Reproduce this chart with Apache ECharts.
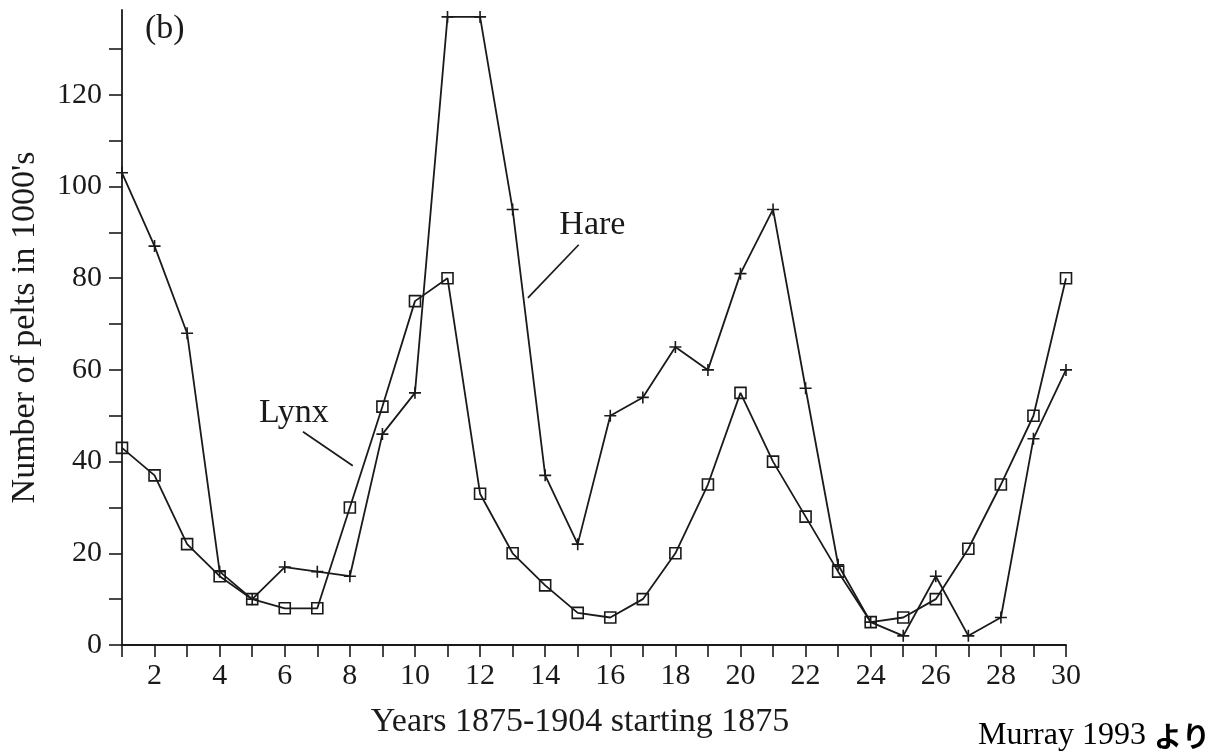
<!DOCTYPE html>
<html>
<head>
<meta charset="utf-8">
<script src="https://cdn.jsdelivr.net/npm/echarts@6/dist/echarts.min.js"></script>
<style>
html,body{margin:0;padding:0;background:#fff;}
#c{width:1218px;height:755px;}
</style>
</head>
<body>
<div id="c"></div>
<script>
const years = [1,2,3,4,5,6,7,8,9,10,11,12,13,14,15,16,17,18,19,20,21,22,23,24,25,26,27,28,29,30];
const hare = [103,87,68,16,10,17,16,15,46,55,137,137,95,37,22,50,54,65,60,81,95,56,17.5,5,2,15,2,6,45,60];
const lynx = [43,37,22,15,10,8,8,30,52,75,80,33,20,13,7,6,10,20,35,55,40,28,16,5,6,10,21,35,50,80];
const yTicks = [0,10,20,30,40,50,60,70,80,90,100,110,120,130];
const yLabels = [0,20,40,60,80,100,120];
const xLabels = [2,4,6,8,10,12,14,16,18,20,22,24,26,28,30];
const harePointer = [[15.03,87.3],[13.47,75.7]];
const lynxPointer = [[6.56,46.5],[8.09,39.1]];

const ink = '#1a1a1a';
const serif = '"Liberation Serif","DejaVu Serif",serif';
const chart = echarts.init(document.getElementById('c'), null, {renderer:'canvas'});

chart.setOption({
  backgroundColor:'#ffffff',
  animation:false,
  grid:{left:117,right:152,top:10,bottom:110,containLabel:false},
  xAxis:{
    type:'value',min:1,max:30,interval:1,
    axisLine:{show:true,lineStyle:{color:ink,width:1.8}},
    axisTick:{show:true,length:12,lineStyle:{color:ink,width:1.6}},
    axisLabel:{
      margin:16,fontFamily:serif,fontSize:30,color:ink,
      customValues:xLabels,
      formatter:v=> (xLabels.indexOf(v)>=0 ? String(v) : '')
    },
    splitLine:{show:false}
  },
  yAxis:{
    type:'value',min:0,max:138.5,
    name:"Number of pelts in 1000's",
    nameLocation:'middle',nameGap:80,
    nameTextStyle:{fontFamily:serif,fontSize:34,color:ink},
    axisLine:{show:true,lineStyle:{color:ink,width:1.8}},
    axisTick:{show:true,length:13,customValues:yTicks,lineStyle:{color:ink,width:1.6}},
    axisLabel:{margin:20,fontFamily:serif,fontSize:30,color:ink,customValues:yLabels},
    splitLine:{show:false}
  },
  graphic:[
    {type:'text',left:145,top:12,style:{text:'(b)',font:'34px "Liberation Serif", serif',fill:ink}},
    {type:'text',x:580,y:722,style:{text:'Years 1875-1904 starting 1875',font:'34px "Liberation Serif", serif',fill:ink,align:'center',verticalAlign:'middle'}},
    {type:'text',left:978,top:720,style:{
      text:'{a|Murray 1993 }{b|より}',
      rich:{
        a:{fontFamily:'"Liberation Serif",serif',fontSize:32,fill:'#000',fontWeight:'normal'},
        b:{fontFamily:'"Noto Sans CJK JP",sans-serif',fontSize:28,fill:'#000',fontWeight:'bold'}
      }
    }}
  ],
  series:[
    {
      name:'Hare',type:'line',
      data:years.map((x,i)=>[x,hare[i]]),
      symbol:'path://M5,0L5,10M0,5L10,5',
      symbolSize:12,
      lineStyle:{color:ink,width:1.8},
      itemStyle:{color:'transparent',borderColor:ink,borderWidth:1.6},
      markLine:{
        silent:true,symbol:'none',label:{show:false},
        lineStyle:{color:ink,width:1.7,type:'solid'},
        data:[[{coord:harePointer[0]},{coord:harePointer[1]}]]
      },
      markPoint:{
        silent:true,symbol:'circle',symbolSize:0,
        label:{show:true,formatter:'Hare',fontFamily:serif,fontSize:34,color:ink,position:'inside'},
        data:[{coord:[15.45,91.5]}]
      },
      z:3
    },
    {
      name:'Lynx',type:'line',
      data:years.map((x,i)=>[x,lynx[i]]),
      symbol:'rect',symbolSize:11,
      lineStyle:{color:ink,width:1.8},
      itemStyle:{color:'transparent',borderColor:ink,borderWidth:1.6},
      markLine:{
        silent:true,symbol:'none',label:{show:false},
        lineStyle:{color:ink,width:1.7,type:'solid'},
        data:[[{coord:lynxPointer[0]},{coord:lynxPointer[1]}]]
      },
      markPoint:{
        silent:true,symbol:'circle',symbolSize:0,
        label:{show:true,formatter:'Lynx',fontFamily:serif,fontSize:34,color:ink,position:'inside'},
        data:[{coord:[6.28,50.5]}]
      },
      z:2
    }
  ]
});
</script>
</body>
</html>
